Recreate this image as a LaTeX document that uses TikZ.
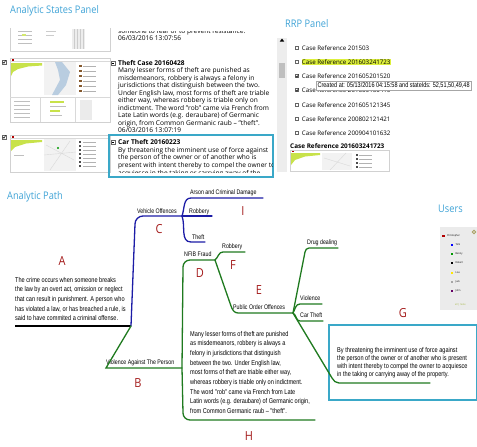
\documentclass[tikz,border=0pt]{standalone}
\usepackage{fontspec}
\setmainfont{Open Sans}
\newfontfamily\uifont{Open Sans}[FakeStretch=0.88]
\newfontfamily\narrowfont{Liberation Sans}[FakeStretch=0.8]
\usetikzlibrary{positioning}
\definecolor{titleblue}{HTML}{3FA3D6}
\definecolor{boxcyan}{HTML}{3AA8C8}
\definecolor{letterred}{HTML}{A31A1A}
\definecolor{pathblue}{HTML}{1C1CA6}
\definecolor{pathgreen}{HTML}{1F7A1F}
\definecolor{limegreen}{HTML}{C8E24A}
\definecolor{hlyellow}{HTML}{DDF03C}
\definecolor{mapblue}{HTML}{B9CDE0}
\definecolor{gearolive}{HTML}{A8A060}

\begin{document}
\begin{tikzpicture}[x=1pt, y=-1pt,
    paneltitle/.style = {font=\uifont\fontsize{10.5}{12}\selectfont, text=titleblue, anchor=west, inner sep=0pt},
    casetext/.style = {font=\fontsize{6.6}{7.5}\selectfont, anchor=base west, inner sep=0pt, align=left},
    listitem/.style = {font=\fontsize{6.2}{7}\selectfont, anchor=west, inner sep=0pt},
    pathtext/.style = {font=\narrowfont\fontsize{7}{9.7}\selectfont, anchor=base west, inner sep=0pt, align=left},
    branch/.style = {font=\narrowfont\fontsize{6.6}{8}\selectfont, anchor=base west, inner sep=0pt},
    casetag/.style = {font=\uifont\fontsize{12.5}{12.5}\selectfont, text=letterred},
    blueline/.style = {draw=pathblue, line width=1.3pt, line cap=round},
    greenline/.style = {draw=pathgreen, line width=1.3pt, line cap=round},
    thumb/.style = {draw=black!18, fill=white, line width=0.4pt},
    chkbox/.style = {draw=black!60, fill=white, line width=0.3pt, minimum size=3.4pt, inner sep=0pt},
    usertext/.style = {font=\uifont\fontsize{2.6}{3}\selectfont, anchor=west, inner sep=0pt}
  ]
  \useasboundingbox (0,0) rectangle (477,447);

  % panel titles
  \node[paneltitle] (statesTitle) at (10,11) {Analytic States Panel};
  \node[paneltitle] (rrpTitle) at (285,24) {RRP Panel};
  \node[paneltitle] (pathTitle) at (7,197) {Analytic Path};
  \node[paneltitle] (usersTitle) at (438,209) {Users};

  % thumbnail 1 (cut at top)
  \draw[black!18, line width=0.4pt] (10,28) -- (10,51) -- (110,51) -- (110,28);
  \foreach \y in {31,35,39,43}
    \draw[black!25, line width=0.6pt] (18,\y) -- (32,\y);
  \fill[limegreen!80] (22,34) rectangle (26,36);
  \draw[black!20, line width=0.5pt] (46,31) -- (56,31) (46,35) -- (54,35);
  \fill[black!7] (72,29) rectangle (85,49);
  \foreach \x in {74,77,80,83}
    \draw[black!20, line width=0.3pt] (\x,29) -- (\x,49);

  % thumbnail 2
  \draw[thumb] (10,58) rectangle (110,122);
  \fill[red!70!black] (12,58.6) rectangle (13.6,60.6);
  \draw[black!15] (10,61) -- (110,61);
  \fill[limegreen] (11,63) -- (42,63) -- (42,65.5) -- (28,66.5) -- (18,69) -- (13,72) -- (11,76) -- cycle;
  \fill[black!5] (44,62) rectangle (76,95);
  \fill[mapblue] (55,62) -- (62,62) -- (70,72) -- (66,85) -- (58,95) -- (52,95) -- (60,80) -- (58,70) -- cycle;
  \foreach \y in {66,71,...,91} {
    \fill[brown!70!black] (79,\y-1) rectangle (81.5,\y+1);
    \draw[black!30, line width=0.5pt] (83,\y) -- (96,\y);
  }
  \draw[black!15] (10,97) -- (110,97) (40,97) -- (40,122) (75,97) -- (75,122);
  \foreach \y in {101,105,...,117}
    \draw[black!25, line width=0.4pt] (14,\y) -- (30,\y);
  \fill[limegreen] (50,101) rectangle (64,103);
  \fill[limegreen] (50,110) rectangle (60,112);
  \draw[black!25, line width=0.4pt] (50,106) -- (66,106) (50,115) -- (62,115);
  \fill[black!8] (80,100) rectangle (92,120);
  \node[chkbox] (chkTheft) at (4,62) {};
  \draw[line width=0.5pt] ([xshift=0.6pt]chkTheft.west) -- ([yshift=0.6pt]chkTheft.south) -- ([xshift=-0.3pt,yshift=-0.3pt]chkTheft.north east);

  % thumbnail 3
  \draw[thumb] (10,135) rectangle (110,172);
  \fill[red!70!black] (12,135.6) rectangle (13.6,137.6);
  \draw[black!15] (10,138) -- (110,138);
  \fill[limegreen] (11,140) -- (42,140) -- (42,142) -- (26,143.5) -- (15,147) -- (11,151) -- cycle;
  \draw[black!25, line width=0.4pt] (14,155) -- (24,155);
  \fill[black!5] (44,139) rectangle (76,171);
  \draw[black!15, line width=0.4pt] (46,145) -- (74,160) (50,170) -- (70,141) (44,155) -- (76,152);
  \fill[green!60!black] (58,148) circle (1.2);
  \foreach \y in {142,146,...,166} {
    \fill[black!70] (79,\y-0.8) rectangle (81,\y+0.8);
    \draw[black!30, line width=0.5pt] (83,\y) -- (96,\y);
  }
  \node[chkbox] (chkCar) at (4,137) {};
  \draw[line width=0.5pt] ([xshift=0.6pt]chkCar.west) -- ([yshift=0.6pt]chkCar.south) -- ([xshift=-0.3pt,yshift=-0.3pt]chkCar.north east);

  % case texts (base anchor sits on the last line)
  \begin{scope}
    \clip (114,31) rectangle (274,45);
    \node[casetext] (caseOld) at (118,40.6) {someone to fear or to prevent resistance.\\06/03/2016 13:07:56};
  \end{scope}
  \node[chkbox, minimum size=4pt] (toggleTheft) at (113,63) {};
  \draw[line width=0.4pt] ([xshift=1pt]toggleTheft.west) -- ([xshift=-1pt]toggleTheft.east);
  \node[casetext] (caseTheft) at (118,132.5) {\textbf{Theft Case 20160428}\\
    Many lesser forms of theft are punished as\\
    misdemeanors, robbery is always a felony in\\
    jurisdictions that distinguish between the two.\\
    Under English law, most forms of theft are triable\\
    either way, whereas robbery is triable only on\\
    indictment. The word "rob" came via French from\\
    Late Latin words (e.g. deraubare) of Germanic\\
    origin, from Common Germanic raub \textendash{} "theft".\\
    06/03/2016 13:07:19};

  \draw[boxcyan, line width=1.4pt] (109,135) rectangle (273,177);
  \node[chkbox, minimum size=4pt] (toggleCar) at (113,142) {};
  \draw[line width=0.4pt] ([xshift=1pt]toggleCar.west) -- ([xshift=-1pt]toggleCar.east);
  \begin{scope}
    \clip (110,136) rectangle (272,172);
    \node[casetext, font=\fontsize{6.6}{7.7}\selectfont] (caseCar) at (118,175.3) {\textbf{Car Theft 20160223}\\
      By threatening the imminent use of force against\\
      the person of the owner or of another who is\\
      present with intent thereby to compel the owner to\\
      acquiesce in the taking or carrying away of the};
  \end{scope}

  % scrollbar
  \fill[black!7] (277,38) rectangle (287,172);
  \fill[black!25] (279,63) rectangle (285,78);
  \fill[black] (282,38.5) -- (279.8,41.5) -- (284.2,41.5) -- cycle;

  % RRP list
  \foreach \y/\num/\i in {48/201503/1, 76/201605201520/3, 90/201605130415/4,
      105/201605121345/5, 119/200802121421/6, 133/200904101632/7} {
    \node[chkbox, minimum size=3.2pt] (rrpBox\i) at (297,\y) {};
    \node[listitem, right=3pt of rrpBox\i] (rrpItem\i) {Case Reference \num};
  }
  \node[chkbox, minimum size=3.2pt] (rrpBox2) at (297,62) {};
  \node[listitem, fill=hlyellow, inner ysep=1pt, right=3pt of rrpBox2] (rrpItem2) {Case Reference 201603241723};
  \foreach \i in {3,4}
    \draw[line width=0.5pt] ([xshift=0.5pt]rrpBox\i.west) -- ([yshift=0.5pt]rrpBox\i.south) -- ([xshift=-0.3pt,yshift=-0.3pt]rrpBox\i.north east);
  \node[draw=black!35, fill=white, font=\narrowfont\fontsize{6.9}{7.5}\selectfont, inner sep=1.4pt, anchor=west] (tooltip) at (316,85.5)
    {Created at: 05/13/2016 04:15:58 and stateIds: 52,51,50,49,48};
  \node[listitem, font=\bfseries\fontsize{6.4}{8}\selectfont] (rrpHead) at (290,146) {Case Reference 201603241723};
  \draw[thumb] (290,150) rectangle (389,171);
  \fill[red!70!black] (292,150.6) rectangle (293.6,152.4);
  \fill[limegreen] (291,153) -- (320,153) -- (320,155) -- (305,156.5) -- (295,160) -- (291,165) -- cycle;
  \fill[black!5] (322,153) rectangle (352,170);
  \draw[black!15, line width=0.4pt] (324,158) -- (350,166) (330,170) -- (346,153);
  \foreach \y in {155,159,...,167} {
    \fill[black!70] (356,\y-0.7) rectangle (357.6,\y+0.7);
    \draw[black!30, line width=0.4pt] (359,\y) -- (372,\y);
  }

  % users
  \fill[black!8] (440,227) rectangle (477,310);
  \draw[gearolive, line width=0.9pt] (474,232) circle (1.8);
  \fill[red!70!black] (442.3,235) rectangle (444.5,237.2);
  \node[usertext] (userChris) at (447,236.3) {Christopher};
  \foreach \y/\col/\who in {245/blue/Tom, 254/green!60!black/Benny, 263/black/Robert,
      273/yellow!90!orange/Lise, 282/black!35/Jack, 291/violet!80!black/John} {
    \fill[\col] (450.8,\y-1.1) rectangle (453,\y+1.1);
    \node[usertext] (user\who) at (455.5,\y) {\who};
  }
  \node[usertext, text=limegreen!80!black] (userAll) at (455,305) {all | none};

  % analytic path
  \coordinate (aStart) at (15,326);
  \coordinate (aEnd) at (131,326);
  \coordinate (vJ) at (182,216);
  \coordinate (nfibJ) at (215,260);
  \coordinate (pooJ) at (293,313);
  \coordinate (vatpR) at (182,368);

  \node[pathtext] (textA) at (15,320.8) {The crime occurs when someone breaks\\
    the law by an overt act, omission or neglect\\
    that can result in punishment. A person who\\
    has violated a law, or has breached a rule, is\\
    said to have commited a criminal offense.};
  \node[pathtext] (textH) at (190,413.6) {Many lesser forms of theft are punished\\
    as misdemeanors, robbery is always a\\
    felony in jurisdictions that distinguish\\
    between the two. Under English law,\\
    most forms of theft are triable either way,\\
    whereas robbery is triable only on indictment.\\
    The word "rob" came via French from Late\\
    Latin words (e.g. deraubare) of Germanic origin,\\
    from Common Germanic raub \textendash{} "theft".};
  \draw[boxcyan, line width=1.4pt] (329,325) rectangle (476.3,400);
  \node[pathtext, font=\narrowfont\fontsize{7}{8.3}\selectfont] (textG) at (337,376.9) {By threatening the imminent use of force against\\
    the person of the owner or of another who is present\\
    with intent thereby to compel the owner to acquiesce\\
    in the taking or carrying away of the property.};

  \node[branch] (vehicle) at (137,213) {Vehicle Offences};
  \node[branch] (arson) at (190,194.5) {Arson and Criminal Damage};
  \node[branch] (robberyV) at (189,213) {Robbery};
  \node[branch] (theft) at (192,239) {Theft};
  \node[branch] (nfib) at (184,256.5) {NFIB Fraud};
  \node[branch] (robberyN) at (222,248.5) {Robbery};
  \node[branch] (poo) at (233,309.5) {Public Order Offences};
  \node[branch] (drug) at (307,244.5) {Drug dealing};
  \node[branch] (violence) at (300,300.5) {Violence};
  \node[branch] (carTheft) at (300,317.5) {Car Theft};
  \node[branch] (vatp) at (106,364.5) {Violence Against The Person};

  \draw[line width=1.3pt] (aStart) -- (aEnd);
  \draw[blueline] (aEnd) -- (135,224) to[out=90,in=180] (143,216) -- (vJ);
  \draw[blueline] (vJ) to[out=70,in=180] (191,198) -- (263,198);
  \draw[blueline] (vJ) -- (212,216);
  \draw[blueline] (vJ) to[out=-70,in=180] (191,242) -- (205,242);

  \draw[greenline] (aEnd) -- (106,368) -- (vatpR);
  \draw[greenline] (nfibJ) -- (190,260) to[out=180,in=90] (183,267) -- (vatpR) -- (183,413) to[out=-90,in=180] (190,420) -- (315,420);
  \draw[greenline] (nfibJ) to[out=40,in=180] (223,252) -- (245,252);
  \draw[greenline] (nfibJ) -- (231,306) to[out=-70,in=180] (238,313) -- (pooJ);
  \draw[greenline] (pooJ) -- (305,252) to[out=80,in=180] (309,248) -- (338,248);
  \draw[greenline] (pooJ) to[out=60,in=180] (300,304) -- (322,304);
  \draw[greenline] (pooJ) to[out=-30,in=180] (300,321) -- (323,321);
  \draw[greenline] (pooJ) -- (332,378) to[out=-60,in=180] (339,383) -- (430,383);

  % letters
  \node[casetag] (tagA) at (62,261) {A};
  \node[casetag] (tagB) at (138,383) {B};
  \node[casetag] (tagC) at (159,229) {C};
  \node[casetag] (tagD) at (200,273) {D};
  \node[casetag] (tagE) at (259,290) {E};
  \node[casetag] (tagF) at (233,265) {F};
  \node[casetag] (tagG) at (403,313) {G};
  \node[casetag] (tagH) at (249,436) {H};
  \node[casetag] (tagI) at (243,211) {I};
\end{tikzpicture}
\end{document}
